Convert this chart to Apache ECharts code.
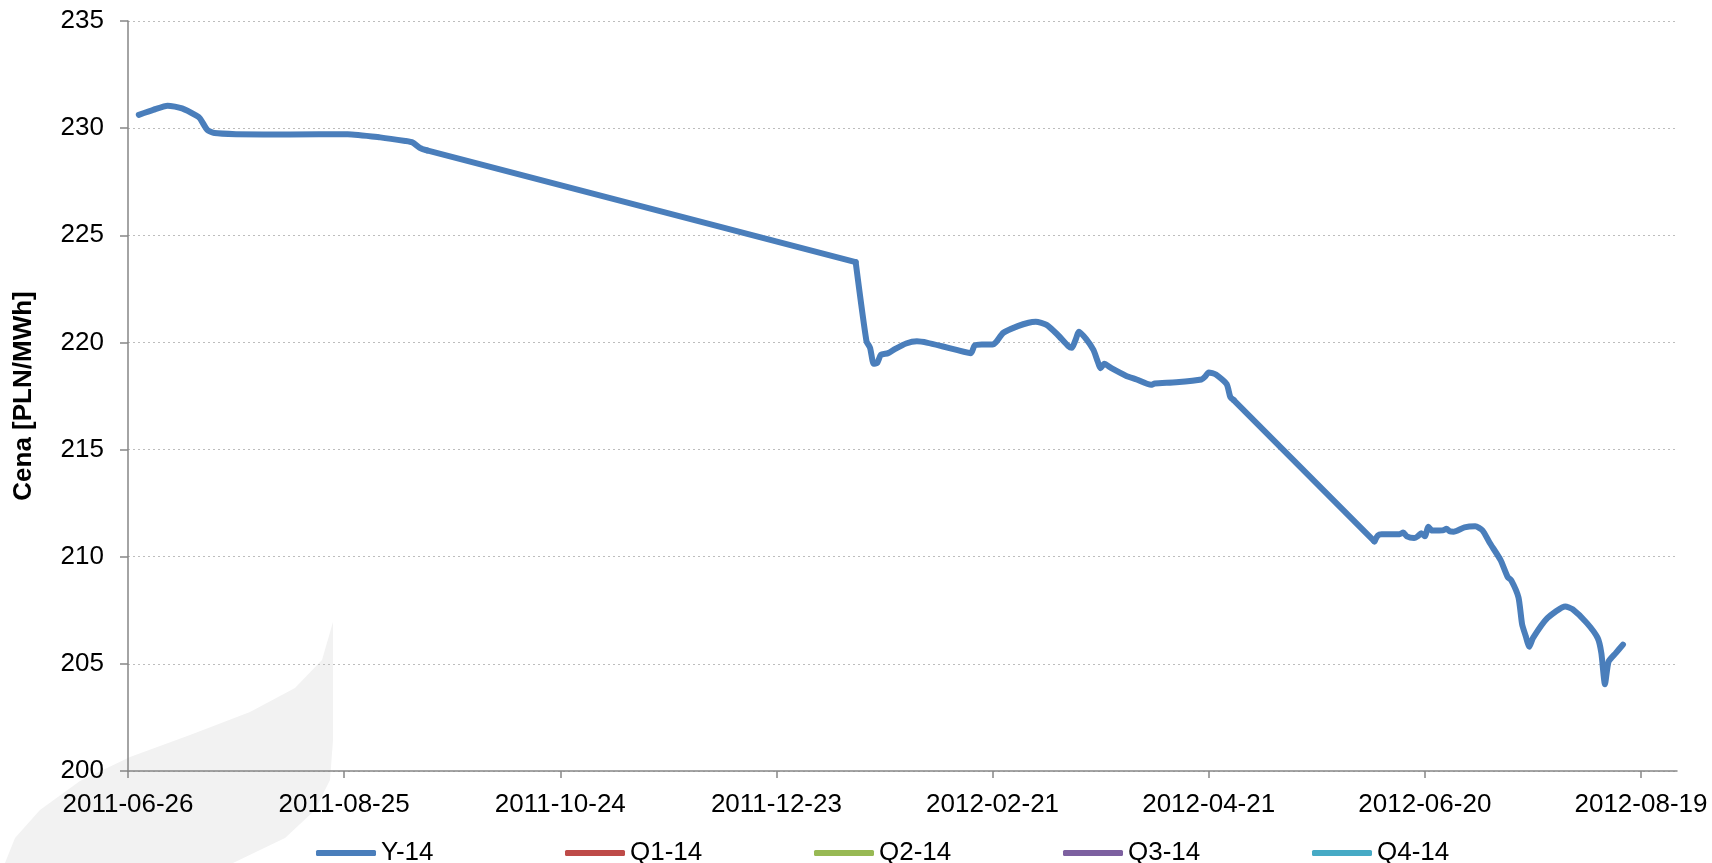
<!DOCTYPE html>
<html>
<head>
<meta charset="utf-8">
<title>Y-14</title>
<script src="https://cdn.jsdelivr.net/npm/echarts@6/dist/echarts.min.js"></script>
<style>
  html, body { margin: 0; padding: 0; background: #fff; }
  #chart { width: 1712px; height: 863px; }
</style>
</head>
<body>
<div id="chart"></div>
<script>
// serie i kolory (Excel 2007)
const seriesNames = ['Y-14', 'Q1-14', 'Q2-14', 'Q3-14', 'Q4-14']
const seriesColors = ['#4a7ebb', '#be4b48', '#98b954', '#7d60a0', '#46aac5']

// etykiety osi X co 60 dni
const xTickLabels = ['2011-06-26', '2011-08-25', '2011-10-24', '2011-12-23',
  '2012-02-21', '2012-04-21', '2012-06-20', '2012-08-19']

// notowania Y-14
const y14Dates = [
  '2011-06-29', '2011-07-03', '2011-07-07', '2011-07-11', '2011-07-15', '2011-07-16',
  '2011-07-18', '2011-07-20', '2011-07-26', '2011-08-10', '2011-08-26', '2011-09-04',
  '2011-09-11', '2011-09-13', '2011-09-15', '2011-09-17',
  '2012-01-14', '2012-01-17', '2012-01-18', '2012-01-19', '2012-01-20', '2012-01-21',
  '2012-01-23', '2012-01-25', '2012-01-28', '2012-01-31', '2012-02-03', '2012-02-07',
  '2012-02-11', '2012-02-15', '2012-02-16', '2012-02-18', '2012-02-21', '2012-02-22',
  '2012-02-24', '2012-02-28', '2012-03-02', '2012-03-04', '2012-03-07', '2012-03-10',
  '2012-03-13', '2012-03-14', '2012-03-15', '2012-03-16', '2012-03-18', '2012-03-20',
  '2012-03-21', '2012-03-22', '2012-03-23', '2012-03-25', '2012-03-29', '2012-04-01',
  '2012-04-05', '2012-04-06', '2012-04-12', '2012-04-19', '2012-04-20', '2012-04-21',
  '2012-04-23', '2012-04-26', '2012-04-27', '2012-04-28',
  '2012-06-06', '2012-06-07', '2012-06-08', '2012-06-13', '2012-06-14', '2012-06-15',
  '2012-06-17', '2012-06-18', '2012-06-19', '2012-06-20', '2012-06-21', '2012-06-22',
  '2012-06-25', '2012-06-26', '2012-06-27', '2012-06-28', '2012-07-01', '2012-07-04',
  '2012-07-06', '2012-07-08', '2012-07-11', '2012-07-13', '2012-07-14', '2012-07-16',
  '2012-07-17', '2012-07-18', '2012-07-19', '2012-07-20', '2012-07-24', '2012-07-29',
  '2012-07-31', '2012-08-04', '2012-08-07', '2012-08-08', '2012-08-09', '2012-08-10',
  '2012-08-12', '2012-08-14'
]
const y14Values = [
  230.62, 230.85, 231.05, 230.92, 230.58, 230.45,
  229.92, 229.77, 229.72, 229.70, 229.72, 229.57,
  229.40, 229.33, 229.08, 228.96,
  223.75, 220.06, 219.75, 219.00, 219.05, 219.42,
  219.50, 219.70, 219.95, 220.05, 219.98, 219.82,
  219.65, 219.50, 219.85, 219.90, 219.90, 220.02,
  220.45, 220.76, 220.92, 220.96, 220.82, 220.37,
  219.83, 219.75, 220.10, 220.50, 220.15, 219.65,
  219.20, 218.80, 219.00, 218.80, 218.45, 218.27,
  218.02, 218.08, 218.14, 218.27, 218.40, 218.60,
  218.50, 218.05, 217.45, 217.30,
  210.72, 211.00, 211.05, 211.05, 211.13, 210.95,
  210.87, 210.95, 211.10, 210.95, 211.40, 211.22,
  211.23, 211.30, 211.18, 211.17, 211.37, 211.42,
  211.23, 210.65, 209.85, 209.05, 208.90, 208.10,
  206.85, 206.30, 205.80, 206.20, 207.13, 207.68,
  207.55, 206.90, 206.20, 205.50, 204.05, 205.10,
  205.50, 205.90
]

const DAY = 86400000
const startTs = Date.parse(xTickLabels[0])
function dayOf(s) { return Math.round((Date.parse(s) - startTs) / DAY) }
function labelOf(d) { return new Date(startTs + d * DAY).toISOString().slice(0, 10) }

const font = 'Liberation Sans, Arial, sans-serif'
const tickDays = xTickLabels.map(dayOf)

// długie przerwy w notowaniach rysujemy prosto (jak Excel), resztę wygładzamy
const GAP_DAYS = 20
const y14Smooth = []
const y14Gaps = []
y14Dates.forEach((d, k) => {
  const pt = [dayOf(d), y14Values[k]]
  if (k > 0 && pt[0] - dayOf(y14Dates[k - 1]) > GAP_DAYS) {
    y14Smooth.push(null)
    y14Gaps.push([dayOf(y14Dates[k - 1]), y14Values[k - 1]], pt, null)
  }
  y14Smooth.push(pt)
})

function lineSeries(name, color, data, smooth) {
  return {
    name: name,
    type: 'line',
    data: data,
    smooth: smooth,
    showSymbol: false,
    z: 3,
    itemStyle: { color: color },
    lineStyle: { color: color, width: 6, cap: 'round', join: 'round' }
  }
}

function getOption() {
  return {
    animation: false,
    backgroundColor: '#fff',
    grid: { left: 128, right: 35, top: 21, bottom: 92 },
    // znak wodny w tle
    graphic: [{
      type: 'polygon',
      z: -10,
      silent: true,
      shape: {
        points: [[333, 622], [322, 660], [295, 688], [250, 712], [190, 735], [130, 757],
          [80, 781], [40, 810], [15, 838], [5, 863], [233, 863], [285, 838], [315, 810],
          [330, 780], [333, 740]]
      },
      style: { fill: '#f2f2f2' }
    }],
    // osobna legenda dla każdej serii - równe odstępy jak w Excelu
    legend: seriesNames.map((name, i) => ({
      data: [name],
      left: 316 + i * 249,
      top: 840,
      padding: 0,
      icon: 'roundRect',
      itemWidth: 60,
      itemHeight: 6,
      textStyle: { fontFamily: font, fontSize: 26, color: '#000' }
    })),
    xAxis: {
      type: 'value',
      min: 0,
      max: tickDays[tickDays.length - 1] + 10,
      interval: 60,
      axisLine: { show: true, lineStyle: { color: '#868686', width: 1.5 } },
      axisTick: { show: true, length: 7, lineStyle: { color: '#868686', width: 1.5 } },
      axisLabel: {
        showMaxLabel: false,
        formatter: (v) => labelOf(v),
        fontFamily: font,
        fontSize: 26,
        color: '#000',
        margin: 21
      },
      splitLine: { show: false }
    },
    yAxis: {
      type: 'value',
      min: 200,
      max: 235,
      interval: 5,
      name: 'Cena [PLN/MWh]',
      nameLocation: 'middle',
      nameGap: 91,
      nameTextStyle: { fontFamily: font, fontSize: 26, fontWeight: 'bold', color: '#000' },
      axisLine: { show: true, lineStyle: { color: '#868686', width: 1.5 } },
      axisTick: { show: true, length: 8, lineStyle: { color: '#868686', width: 1.5 } },
      axisLabel: { fontFamily: font, fontSize: 26, color: '#000', margin: 24 },
      splitLine: { show: true, lineStyle: { color: '#bdbdbd', width: 1.2, type: [2, 3] } }
    },
    series: [
      lineSeries('Y-14', seriesColors[0], y14Smooth, 0.2),
      lineSeries('Y-14', seriesColors[0], y14Gaps, false),
      ...seriesNames.slice(1).map((name, i) => lineSeries(name, seriesColors[i + 1], [], false))
    ]
  }
}

const chart = echarts.init(document.getElementById('chart'))
chart.setOption(getOption())
</script>
</body>
</html>
